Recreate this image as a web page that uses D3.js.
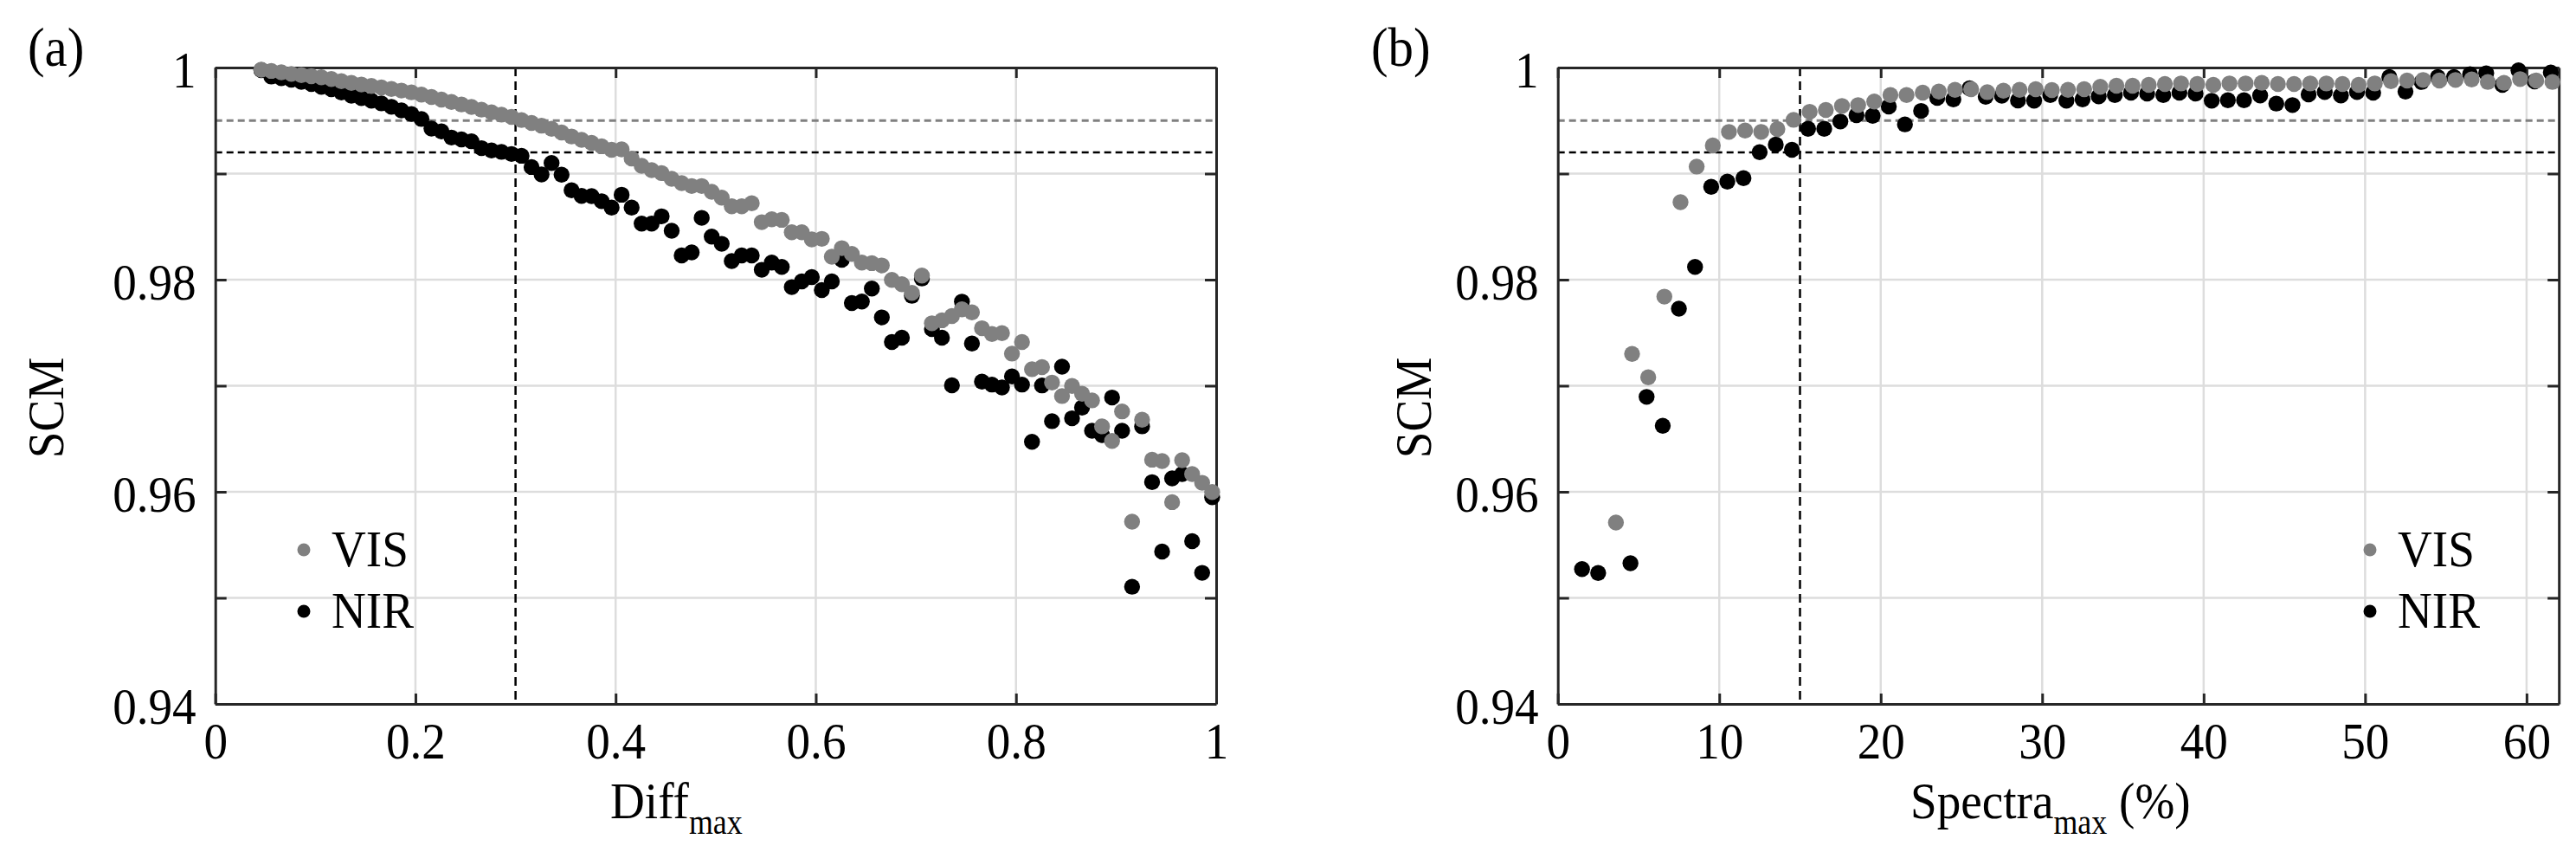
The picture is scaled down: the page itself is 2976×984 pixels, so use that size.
<!DOCTYPE html>
<html>
<head>
<meta charset="utf-8">
<script src="https://cdn.jsdelivr.net/npm/d3@7"></script>
<style>
  body { margin: 0; background: #fff; }
  svg text { font-family: "Liberation Serif", "Times New Roman", serif; fill: #000; }
</style>
</head>
<body>
<div id="chart"></div>
<script>
// ---- panel (a): SCM vs Diff_max ----
const diffMax = [0.046, 0.056, 0.066, 0.076, 0.086, 0.096, 0.106, 0.116, 0.126, 0.136,
  0.146, 0.156, 0.166, 0.176, 0.186, 0.196, 0.206, 0.216, 0.226, 0.236,
  0.246, 0.256, 0.266, 0.276, 0.286, 0.296, 0.306, 0.316, 0.326, 0.336,
  0.346, 0.356, 0.366, 0.376, 0.386, 0.396, 0.406, 0.416, 0.426, 0.436,
  0.446, 0.456, 0.466, 0.476, 0.486, 0.496, 0.506, 0.516, 0.526, 0.536,
  0.546, 0.556, 0.566, 0.576, 0.586, 0.596, 0.606, 0.616, 0.626, 0.636,
  0.646, 0.656, 0.666, 0.676, 0.686, 0.696, 0.706, 0.716, 0.726, 0.736,
  0.746, 0.756, 0.766, 0.776, 0.786, 0.796, 0.806, 0.816, 0.826, 0.836,
  0.846, 0.856, 0.866, 0.876, 0.886, 0.896, 0.906, 0.916, 0.926, 0.936,
  0.946, 0.956, 0.966, 0.976, 0.986, 0.996];

const visDiff = [0.9998, 0.99968, 0.99955, 0.9994, 0.99928, 0.99918, 0.99908, 0.99892, 0.99872, 0.99855,
  0.9984, 0.99826, 0.99812, 0.99798, 0.99783, 0.99766, 0.99745, 0.99722, 0.99698, 0.99675,
  0.99652, 0.99628, 0.99603, 0.99578, 0.99556, 0.99535, 0.99505, 0.99478, 0.99452, 0.99422,
  0.99388, 0.9935, 0.99318, 0.9929, 0.99258, 0.99225, 0.99228, 0.99142, 0.99074, 0.99033,
  0.99005, 0.98951, 0.9891, 0.98883, 0.98883, 0.98828, 0.98774, 0.98692, 0.98692, 0.9872,
  0.98542, 0.9857, 0.98564, 0.98447, 0.98447, 0.98379, 0.98385, 0.98216, 0.98297, 0.98243,
  0.98161, 0.98156, 0.98134, 0.97998, 0.97957, 0.97875, 0.98039, 0.97589, 0.97617, 0.97657,
  0.9772, 0.97692, 0.97542, 0.97488, 0.97496, 0.97303, 0.97412, 0.97156, 0.97175, 0.9703,
  0.96903, 0.96998, 0.96924, 0.96862, 0.96617, 0.9648, 0.96758, 0.95718, 0.96679, 0.96303,
  0.9629, 0.95903, 0.96298, 0.96167, 0.96085, 0.95998];

const nirDiff = [0.99975, 0.99915, 0.999, 0.99885, 0.99865, 0.99845, 0.99818, 0.99795, 0.99765, 0.99735,
  0.99712, 0.99688, 0.99662, 0.9963, 0.99596, 0.99562, 0.99515, 0.99425, 0.99398, 0.9934,
  0.99322, 0.99305, 0.9924, 0.99218, 0.99205, 0.99185, 0.99168, 0.99062, 0.98992, 0.991,
  0.9899, 0.98843, 0.9879, 0.98788, 0.9874, 0.98679, 0.98801, 0.98679, 0.98529, 0.98529,
  0.98597, 0.98461, 0.98229, 0.98257, 0.98583, 0.98406, 0.98338, 0.98175, 0.98229, 0.98229,
  0.98093, 0.98161, 0.9812, 0.9793, 0.97984, 0.98025, 0.97902, 0.97984, 0.98188, 0.9778,
  0.97794, 0.97916, 0.97644, 0.97412, 0.97453, 0.97848, 0.98011, 0.97535, 0.97453, 0.97004,
  0.97793, 0.97398, 0.97039, 0.97011, 0.96984, 0.97088, 0.97011, 0.96472, 0.97003, 0.96666,
  0.9718, 0.96693, 0.96794, 0.96576, 0.96535, 0.96889, 0.96576, 0.95105, 0.96617, 0.96091,
  0.95437, 0.96126, 0.96167, 0.95535, 0.95236, 0.95949];

// ---- panel (b): SCM vs Spectra_max (%) ----
const visSpectraX = [3.6, 4.6, 5.6, 6.6, 7.6, 8.6, 9.6, 10.6, 11.6, 12.6,
  13.6, 14.6, 15.6, 16.6, 17.6, 18.6, 19.6, 20.6, 21.6, 22.6,
  23.6, 24.6, 25.6, 26.6, 27.6, 28.6, 29.6, 30.6, 31.6, 32.6,
  33.6, 34.6, 35.6, 36.6, 37.6, 38.6, 39.6, 40.6, 41.6, 42.6,
  43.6, 44.6, 45.6, 46.6, 47.6, 48.6, 49.6, 50.6, 51.6, 52.6,
  53.6, 54.6, 55.6, 56.6, 57.6, 58.6, 59.6, 60.6, 61.6];
const visSpectra = [0.9571, 0.973, 0.9708, 0.9784, 0.98731, 0.99066, 0.99265, 0.99393, 0.99406, 0.99393,
  0.9942, 0.99507, 0.99583, 0.996, 0.99638, 0.99646, 0.99679, 0.99741, 0.99741, 0.99763,
  0.99774, 0.9979, 0.99796, 0.99768, 0.99782, 0.9979, 0.99796, 0.99788, 0.9979, 0.99796,
  0.99818, 0.99828, 0.99828, 0.99837, 0.99845, 0.9985, 0.99845, 0.99837, 0.9985, 0.9985,
  0.99856, 0.99845, 0.99845, 0.9985, 0.9985, 0.99845, 0.99837, 0.9985, 0.99872, 0.99877,
  0.99883, 0.99877, 0.99883, 0.99888, 0.99864, 0.99856, 0.99891, 0.99877, 0.99864];

const nirSpectraX = [1.5, 2.5, 4.5, 5.5, 6.5, 7.5, 8.5, 9.5, 10.5, 11.5,
  12.5, 13.5, 14.5, 15.5, 16.5, 17.5, 18.5, 19.5, 20.5, 21.5,
  22.5, 23.5, 24.5, 25.5, 26.5, 27.5, 28.5, 29.5, 30.5, 31.5,
  32.5, 33.5, 34.5, 35.5, 36.5, 37.5, 38.5, 39.5, 40.5, 41.5,
  42.5, 43.5, 44.5, 45.5, 46.5, 47.5, 48.5, 49.5, 50.5, 51.5,
  52.5, 53.5, 54.5, 55.5, 56.5, 57.5, 58.5, 59.5, 60.5, 61.5];
const nirSpectra = [0.95271, 0.95235, 0.95326, 0.96895, 0.96622, 0.97726, 0.98121, 0.98875, 0.98924, 0.98957,
  0.99202, 0.99273, 0.99224, 0.99423, 0.99423, 0.99491, 0.99551, 0.99545, 0.99632, 0.99464,
  0.99591, 0.99714, 0.997, 0.99805, 0.99724, 0.99735, 0.9969, 0.99687, 0.99741, 0.99687,
  0.997, 0.99728, 0.99741, 0.99763, 0.99755, 0.99741, 0.99763, 0.99755, 0.99687, 0.99692,
  0.99692, 0.99736, 0.9966, 0.99646, 0.99747, 0.99769, 0.99736, 0.99769, 0.99763, 0.9991,
  0.99774, 0.99864, 0.9991, 0.9991, 0.99937, 0.99946, 0.99837, 0.99973, 0.9987, 0.99954];

const yTicks = [0.94, 0.95, 0.96, 0.97, 0.98, 0.99, 1];
const yLabelled = [0.94, 0.96, 0.98, 1];
const diffTicks = [0, 0.2, 0.4, 0.6, 0.8, 1];
const spectraTicks = [0, 10, 20, 30, 40, 50, 60];
const visLimit = 0.995;
const nirLimit = 0.992;

const W = 2976, H = 984;
const plotTop = 78, plotBottom = 813;
const fontSize = 60;
const squeeze = 0.92;   // Times in the original renders a bit narrower than Liberation Serif
const grey = "#808080";
const axisColor = "#262626";

const svg = d3.select("#chart").append("svg")
    .attr("width", W)
    .attr("height", H)
    .style("background", "#fff");

// text placed at (x, y) and squeezed horizontally
function label(parent, x, y, size, extra) {
    return parent.append("text")
        .attr("transform", `translate(${x},${y}) ${extra || ""} scale(${squeeze},1)`)
        .attr("font-size", size);
}

function drawPanel(p) {
    const x = d3.scaleLinear().domain(p.xDomain).range([p.left, p.right]);
    const y = d3.scaleLinear().domain([0.94, 1]).range([plotBottom, plotTop]);
    const g = svg.append("g");

    // grid
    g.append("g").selectAll("line")
        .data(p.xTicks.filter(d => d > p.xDomain[0] && d < p.xDomain[1]))
        .enter().append("line")
        .attr("x1", d => x(d)).attr("x2", d => x(d))
        .attr("y1", plotTop).attr("y2", plotBottom)
        .attr("stroke", "#dddddd").attr("stroke-width", 2.5);
    g.append("g").selectAll("line")
        .data(yTicks.filter(d => d > 0.94 && d < 1))
        .enter().append("line")
        .attr("x1", p.left).attr("x2", p.right)
        .attr("y1", d => y(d)).attr("y2", d => y(d))
        .attr("stroke", "#dddddd").attr("stroke-width", 2.5);

    // threshold lines
    g.append("line")
        .attr("x1", p.left).attr("x2", p.right)
        .attr("y1", y(visLimit)).attr("y2", y(visLimit))
        .attr("stroke", grey).attr("stroke-width", 3)
        .attr("stroke-dasharray", "8,5");
    g.append("line")
        .attr("x1", p.left).attr("x2", p.right)
        .attr("y1", y(nirLimit)).attr("y2", y(nirLimit))
        .attr("stroke", "#000").attr("stroke-width", 2.5)
        .attr("stroke-dasharray", "8,5");
    g.append("line")
        .attr("x1", x(p.cut)).attr("x2", x(p.cut))
        .attr("y1", plotTop).attr("y2", plotBottom)
        .attr("stroke", "#000").attr("stroke-width", 2.5)
        .attr("stroke-dasharray", "10,6");

    // axes (box with inward ticks on all sides)
    const fmt = d3.format("~g");
    const xb = g.append("g")
        .attr("transform", `translate(0,${plotBottom})`)
        .call(d3.axisBottom(x).tickValues(p.xTicks).tickSize(-12).tickSizeOuter(0)
            .tickPadding(22).tickFormat(fmt));
    const xt = g.append("g")
        .attr("transform", `translate(0,${plotTop})`)
        .call(d3.axisTop(x).tickValues(p.xTicks).tickSize(-12).tickSizeOuter(0).tickFormat(""));
    const yl = g.append("g")
        .attr("transform", `translate(${p.left},0)`)
        .call(d3.axisLeft(y).tickValues(yTicks).tickSize(-13).tickSizeOuter(0)
            .tickPadding(22).tickFormat(d => yLabelled.includes(d) ? fmt(d) : ""));
    const yr = g.append("g")
        .attr("transform", `translate(${p.right},0)`)
        .call(d3.axisRight(y).tickValues(yTicks).tickSize(-13).tickSizeOuter(0).tickFormat(""));

    [xb, xt, yl, yr].forEach(a => {
        a.attr("font-family", null).attr("font-size", fontSize);
        a.select(".domain").attr("stroke", axisColor).attr("stroke-width", 3);
        a.selectAll(".tick line").attr("stroke", axisColor).attr("stroke-width", 3);
        a.selectAll(".tick text").attr("fill", "#000")
            .attr("transform", `scale(${squeeze},1)`);
    });
    yl.selectAll(".tick text").attr("dy", "0.37em").attr("x", -22 / squeeze);
    xb.selectAll(".tick text").attr("dy", "0.68em");

    // points: NIR under VIS
    g.append("g").selectAll("circle")
        .data(p.nir)
        .enter().append("circle")
        .attr("cx", d => x(d[0])).attr("cy", d => y(d[1]))
        .attr("r", 9.2).attr("fill", "#000");
    g.append("g").selectAll("circle")
        .data(p.vis)
        .enter().append("circle")
        .attr("cx", d => x(d[0])).attr("cy", d => y(d[1]))
        .attr("r", 9.2).attr("fill", grey);

    // legend
    const lg = g.append("g");
    [["VIS", grey, 635], ["NIR", "#000", 706]].forEach(([name, col, ly]) => {
        lg.append("circle").attr("cx", p.legendX).attr("cy", ly).attr("r", 7.5).attr("fill", col);
        label(lg, p.legendX + 32, ly + 19, fontSize).text(name);
    });

    // y label
    label(g, p.yLabelX, 471, fontSize, "rotate(-90)")
        .attr("text-anchor", "middle")
        .text("SCM");

    // x label with subscript
    const xl = label(g, p.xLabelX, 945, fontSize);
    xl.append("tspan").text(p.xLabel);
    xl.append("tspan").attr("font-size", 39).attr("dy", 18).text("max");
    if (p.xLabelTail) {
        xl.append("tspan").attr("dy", -18).text(p.xLabelTail);
    }

    // panel letter
    label(g, p.letterX, 76, 64).text(p.letter);
}

drawPanel({
    left: 248.7, right: 1405,
    xDomain: [0, 1], xTicks: diffTicks, cut: 0.3,
    vis: diffMax.map((v, i) => [v, visDiff[i]]),
    nir: diffMax.map((v, i) => [v, nirDiff[i]]),
    legendX: 351, yLabelX: 73, xLabelX: 705, xLabel: "Diff",
    letter: "(a)", letterX: 32
});

drawPanel({
    left: 1799.7, right: 2956.2,
    xDomain: [0, 62], xTicks: spectraTicks, cut: 15,
    vis: visSpectraX.map((v, i) => [v, visSpectra[i]]),
    nir: nirSpectraX.map((v, i) => [v, nirSpectra[i]]),
    legendX: 2738, yLabelX: 1653, xLabelX: 2207, xLabel: "Spectra", xLabelTail: " (%)",
    letter: "(b)", letterX: 1584
});
</script>
</body>
</html>
